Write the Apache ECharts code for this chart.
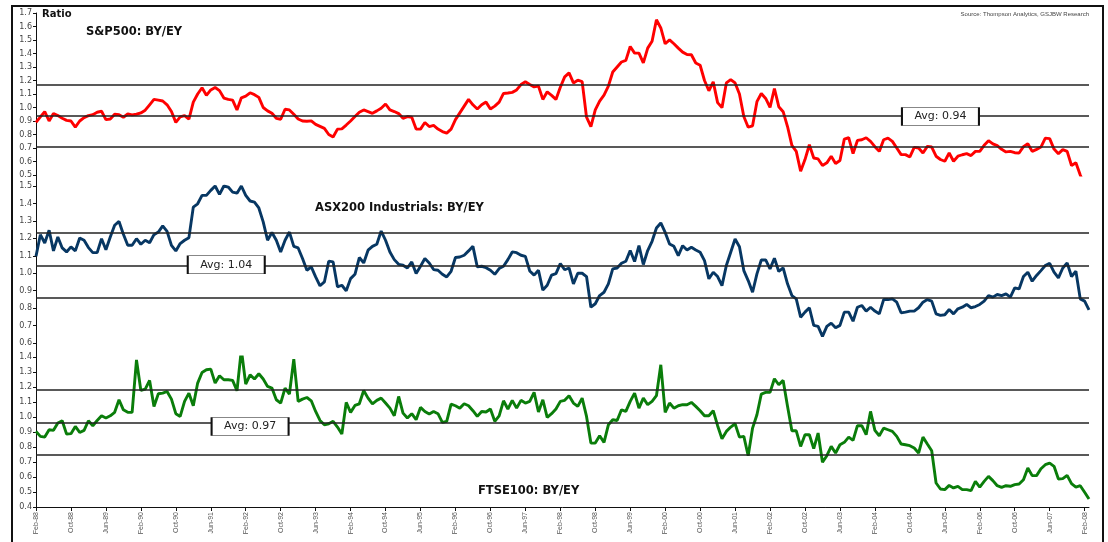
<!DOCTYPE html>
<html><head><meta charset="utf-8">
<script src="https://cdn.jsdelivr.net/npm/echarts@6/dist/echarts.min.js"></script>
<style>
html,body{margin:0;padding:0;background:#fff;}
#frame{position:absolute;left:11px;top:5px;width:1093px;height:540px;border:2px solid #111;box-sizing:border-box;}
#chart{position:absolute;left:0;top:0;width:1108px;height:542px;}
</style></head>
<body>
<div id="frame"></div>
<div id="chart"></div>
<script>
// ---- DATA ----
const startYear = 1988, startMonth = 1, monthCount = 242; // Feb-88 .. Mar-08
const monthNames = ['Jan','Feb','Mar','Apr','May','Jun','Jul','Aug','Sep','Oct','Nov','Dec'];

const sp500 = [0.89,0.93,0.97,0.90,0.955,0.94,0.92,0.905,0.90,0.855,
0.90,0.925,0.94,0.947,0.965,0.972,0.91,0.915,0.95,0.947,
0.928,0.952,0.945,0.95,0.96,0.98,1.02,1.06,1.055,1.048,
1.02,0.97,0.89,0.93,0.94,0.913,1.04,1.10,1.146,1.09,
1.13,1.148,1.125,1.07,1.06,1.055,0.982,1.072,1.084,1.109,
1.095,1.075,1.00,0.975,0.957,0.92,0.913,0.987,0.982,0.95,
0.915,0.90,0.898,0.901,0.875,0.86,0.845,0.80,0.781,0.84,
0.842,0.87,0.90,0.933,0.965,0.982,0.97,0.957,0.975,0.995,
1.026,0.982,0.97,0.955,0.92,0.933,0.928,0.84,0.84,0.889,
0.859,0.867,0.84,0.822,0.81,0.84,0.91,0.96,1.01,1.06,
1.02,0.989,1.02,1.04,0.989,1.01,1.04,1.104,1.107,1.112,
1.13,1.17,1.19,1.17,1.153,1.158,1.06,1.116,1.09,1.06,
1.15,1.227,1.256,1.182,1.202,1.192,0.928,0.859,0.982,1.048,
1.092,1.158,1.263,1.30,1.337,1.349,1.452,1.403,1.403,1.33,
1.44,1.491,1.65,1.589,1.472,1.501,1.472,1.44,1.41,1.393,
1.391,1.33,1.313,1.20,1.124,1.19,1.036,0.999,1.182,1.207,
1.182,1.10,0.933,0.854,0.864,1.043,1.104,1.067,1.001,1.141,
1.006,0.969,0.859,0.72,0.675,0.528,0.614,0.724,0.626,0.619,
0.57,0.59,0.639,0.585,0.607,0.766,0.776,0.658,0.756,0.761,
0.776,0.749,0.71,0.675,0.761,0.773,0.749,0.70,0.651,0.651,
0.634,0.705,0.70,0.663,0.712,0.707,0.639,0.615,0.602,0.663,
0.602,0.639,0.65,0.658,0.644,0.675,0.675,0.72,0.754,0.73,
0.717,0.69,0.671,0.675,0.665,0.663,0.71,0.732,0.675,0.69,
0.707,0.773,0.769,0.692,0.658,0.688,0.675,0.57,0.59,0.50,
0.42,0.40];

const asx200 = [1.097,1.221,1.173,1.246,1.128,1.208,1.145,1.122,1.151,1.128,
1.202,1.189,1.147,1.118,1.118,1.198,1.135,1.208,1.275,1.297,
1.223,1.16,1.16,1.198,1.166,1.189,1.175,1.221,1.236,1.271,
1.24,1.16,1.128,1.17,1.189,1.204,1.379,1.398,1.446,1.446,
1.475,1.50,1.452,1.50,1.494,1.465,1.459,1.50,1.446,1.414,
1.408,1.374,1.294,1.189,1.233,1.189,1.122,1.189,1.236,1.154,
1.145,1.084,1.017,1.036,0.979,0.928,0.95,1.069,1.065,0.922,
0.931,0.899,0.969,0.994,1.09,1.059,1.132,1.154,1.166,1.242,
1.189,1.122,1.078,1.051,1.046,1.03,1.065,0.998,1.04,1.084,
1.059,1.021,1.017,0.994,0.979,1.011,1.09,1.093,1.103,1.128,
1.154,1.036,1.04,1.032,1.017,0.994,1.027,1.04,1.078,1.122,
1.118,1.103,1.097,1.013,0.989,1.017,0.903,0.931,0.989,0.998,
1.055,1.02,1.03,0.939,1.0,1.0,0.981,0.805,0.825,0.872,
0.891,0.939,1.025,1.03,1.057,1.069,1.13,1.067,1.158,1.05,
1.13,1.183,1.259,1.288,1.234,1.168,1.154,1.101,1.158,1.133,
1.149,1.133,1.12,1.072,0.968,1.006,0.981,0.929,1.044,1.12,
1.196,1.152,1.015,0.958,0.891,0.996,1.076,1.076,1.025,1.086,
1.01,1.03,0.939,0.872,0.853,0.748,0.777,0.802,0.701,0.695,
0.638,0.695,0.714,0.687,0.701,0.777,0.777,0.725,0.805,0.815,
0.783,0.805,0.783,0.767,0.849,0.849,0.853,0.834,0.773,0.777,
0.783,0.783,0.802,0.834,0.849,0.84,0.767,0.758,0.762,0.792,
0.767,0.796,0.805,0.821,0.802,0.809,0.821,0.84,0.872,0.863,
0.878,0.872,0.882,0.863,0.916,0.91,0.981,1.006,0.954,0.987,
1.015,1.044,1.057,1.006,0.973,1.03,1.059,0.981,1.011,0.853,
0.84,0.79];

const ftse100 = [0.904,0.871,0.866,0.915,0.911,0.96,0.975,0.886,0.889,0.937,
0.897,0.911,0.975,0.942,0.977,1.008,0.993,1.008,1.031,1.115,
1.048,1.031,1.031,1.381,1.177,1.186,1.244,1.07,1.155,1.159,
1.17,1.119,1.022,1.004,1.104,1.159,1.075,1.226,1.297,1.315,
1.319,1.226,1.275,1.248,1.248,1.244,1.175,1.45,1.219,1.281,
1.253,1.288,1.253,1.204,1.193,1.115,1.093,1.193,1.153,1.386,
1.104,1.119,1.13,1.108,1.037,0.977,0.948,0.955,0.971,0.933,
0.886,1.097,1.031,1.077,1.088,1.177,1.126,1.088,1.111,1.126,
1.093,1.059,1.008,1.137,1.026,0.993,1.022,0.982,1.064,1.037,
1.02,1.037,1.022,0.964,0.971,1.086,1.075,1.059,1.088,1.075,
1.042,1.004,1.037,1.033,1.053,0.971,1.008,1.108,1.053,1.111,
1.059,1.111,1.093,1.104,1.164,1.033,1.115,0.997,1.022,1.053,
1.104,1.111,1.142,1.093,1.071,1.126,1.004,0.826,0.826,0.875,
0.831,0.948,0.982,0.977,1.048,1.037,1.104,1.159,1.059,1.126,
1.082,1.104,1.142,1.348,1.031,1.093,1.059,1.075,1.082,1.082,
1.097,1.071,1.042,1.008,1.008,1.042,0.942,0.855,0.904,0.933,
0.955,0.866,0.871,0.742,0.926,1.015,1.153,1.164,1.164,1.255,
1.215,1.244,1.071,0.908,0.908,0.804,0.882,0.882,0.789,0.893,
0.698,0.742,0.804,0.76,0.815,0.831,0.866,0.844,0.942,0.942,
0.882,1.037,0.911,0.875,0.926,0.915,0.904,0.871,0.82,0.815,
0.809,0.793,0.76,0.866,0.82,0.775,0.56,0.52,0.516,0.544,
0.527,0.538,0.516,0.516,0.509,0.571,0.533,0.571,0.604,0.576,
0.542,0.531,0.542,0.538,0.549,0.553,0.582,0.66,0.609,0.609,
0.655,0.682,0.693,0.671,0.587,0.589,0.611,0.556,0.533,0.542,
0.498,0.453];

// average and +/- 1 std lines
const spLines = [1.167, 0.94, 0.714];
const asxLines = [1.228, 1.043, 0.86];
const ftseLines = [1.176, 0.964, 0.752];
const avgLabels = ['Avg: 0.94', 'Avg: 1.04', 'Avg: 0.97'];
const avgLabelMonth = [207, 44, 49];

// y-axis ranges (tick labels every 0.1)
const yRanges = [[0.5, 1.7], [0.6, 1.5], [0.4, 1.4]];

const titles = ['S&P500: BY/EY', 'ASX200 Industrials: BY/EY', 'FTSE100: BY/EY'];

const categories = [];
for (let i = 0; i < monthCount; i++) {
  const t = startMonth + i;
  const y = startYear + Math.floor(t / 12);
  categories.push(monthNames[t % 12] + '-' + String(y % 100).padStart(2, '0'));
}

// ---- CHART ----
const chart = echarts.init(document.getElementById('chart'), null, {renderer: 'canvas'});
const grids = [
  {left: 36, right: 19, top: 13, height: 162},
  {left: 36, right: 19, top: 186, height: 157},
  {left: 36, right: 19, top: 357, height: 150}
];
const colors = ['#ff0000', '#073763', '#0a7d0a'];
const seriesData = [sp500, asx200, ftse100];
const lines = [spLines, asxLines, ftseLines];

const xAxes = grids.map((g, i) => ({
  type: 'category', gridIndex: i, data: categories, boundaryGap: false,
  show: i === 2,
  axisLine: {show: true, lineStyle: {color: '#111', width: 1}},
  axisTick: {show: true, interval: 7, length: 4, lineStyle: {color: '#111'}},
  axisLabel: {show: true, interval: 7, rotate: 90, fontSize: 7, color: '#555',
              fontFamily: 'Liberation Sans', margin: 5},
  splitLine: {show: false}
}));
const yAxes = grids.map((g, i) => ({
  type: 'value', gridIndex: i, min: yRanges[i][0], max: yRanges[i][1], interval: 0.1,
  axisLine: {show: true, lineStyle: {color: '#111', width: 1}},
  axisTick: {show: true, length: 3, lineStyle: {color: '#111'}},
  axisLabel: {fontSize: 8, color: '#444', fontFamily: 'DejaVu Sans', margin: 4,
              formatter: v => v.toFixed(1)},
  splitLine: {show: false}
}));

const series = seriesData.map((d, i) => ({
  type: 'line', xAxisIndex: i, yAxisIndex: i, data: d, symbol: 'none',
  lineStyle: {color: colors[i], width: 2.9}, itemStyle: {color: colors[i]},
  clip: true, animation: false, z: 3,
  markLine: {
    silent: true, symbol: ['none', 'none'], animation: false,
    lineStyle: {color: '#222', width: 1.5, type: 'solid'},
    label: {show: false},
    data: lines[i].map(v => ({yAxis: v}))
  },
  markPoint: {
    silent: true, animation: false,
    symbol: 'rect', symbolSize: [77, 18],
    itemStyle: {color: '#fff', borderColor: '#111', borderWidth: 1},
    label: {show: true, position: 'inside', formatter: avgLabels[i], color: '#222',
            fontSize: 11, fontFamily: 'DejaVu Sans'},
    data: [{coord: [categories[avgLabelMonth[i]], lines[i][1]],
            symbolOffset: i === 2 ? [0, 4] : (i === 1 ? [-2, -1] : [0, 1])}]
  }
}));

const graphic = [
  // y-axis line continues through the gaps between panels
  {type: 'line', shape: {x1: 36.5, y1: 175, x2: 36.5, y2: 186}, style: {stroke: '#111', lineWidth: 1}},
  {type: 'line', shape: {x1: 36.5, y1: 343, x2: 36.5, y2: 357}, style: {stroke: '#111', lineWidth: 1}},
  {type: 'text', left: 42, top: 9, style: {text: 'Ratio', fill: '#111', fontFamily: 'DejaVu Sans', fontWeight: 'bold', fontSize: 10}},
  {type: 'text', left: 86, top: 26, style: {text: titles[0], fill: '#111', fontFamily: 'DejaVu Sans', fontWeight: 'bold', fontSize: 11.5}},
  {type: 'text', left: 315, top: 202, style: {text: titles[1], fill: '#111', fontFamily: 'DejaVu Sans', fontWeight: 'bold', fontSize: 11.5}},
  {type: 'text', left: 478, top: 485, style: {text: titles[2], fill: '#111', fontFamily: 'DejaVu Sans', fontWeight: 'bold', fontSize: 11.5}},
  {type: 'text', right: 19, top: 11, style: {text: 'Source: Thompson Analytics, GSJBW Research', fill: '#444', fontFamily: 'Liberation Sans', fontSize: 6}}
];

chart.setOption({
  animation: false,
  backgroundColor: 'transparent',
  grid: grids,
  xAxis: xAxes,
  yAxis: yAxes,
  series: series,
  graphic: graphic
});
</script>
</body></html>
